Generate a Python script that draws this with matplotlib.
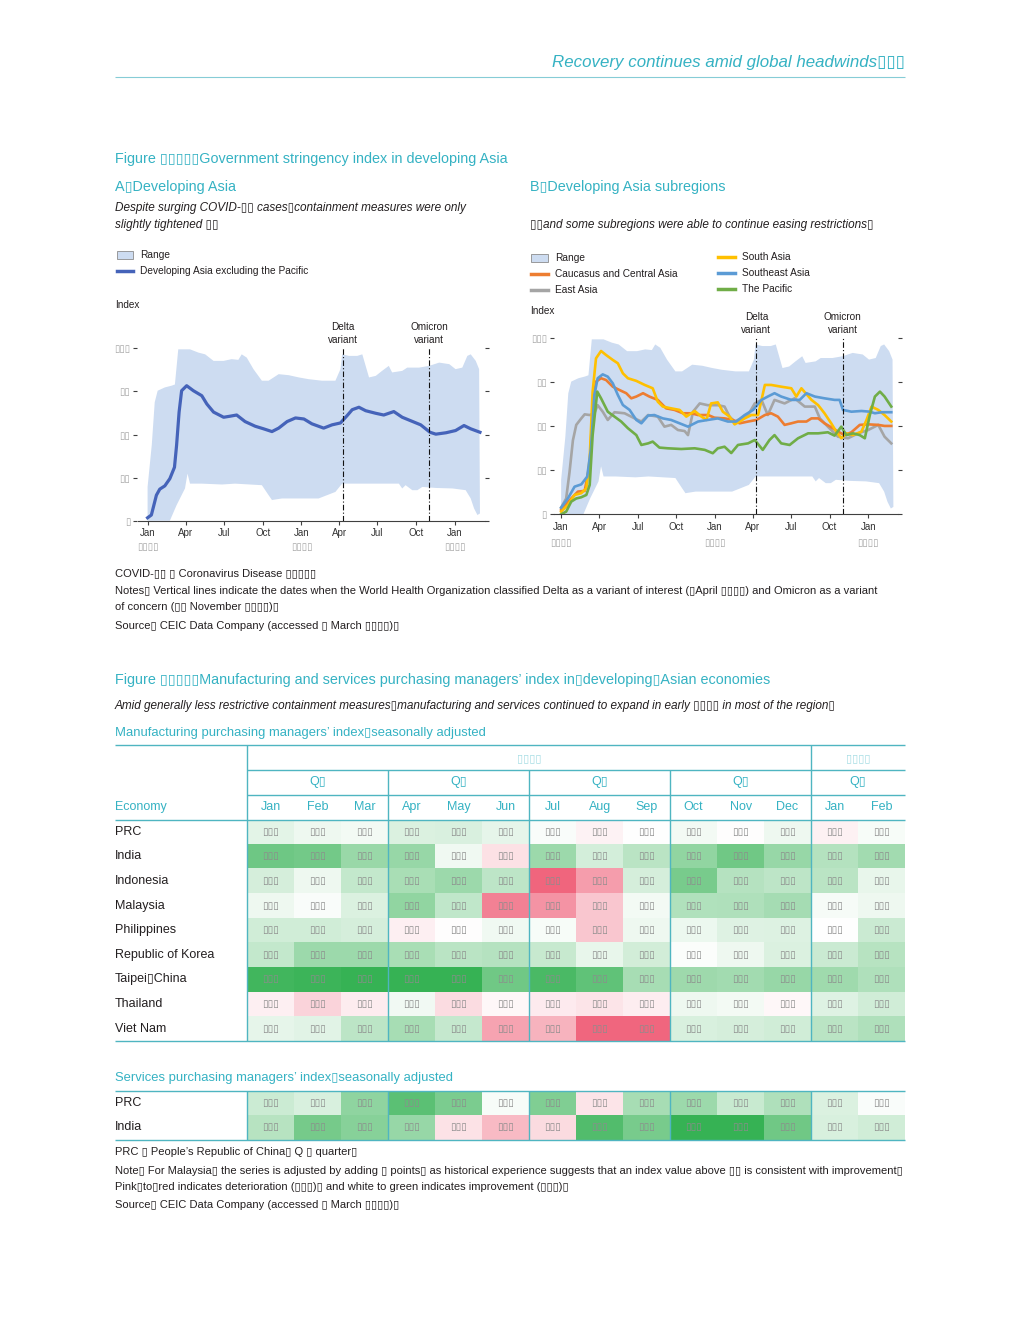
import numpy as np
import pandas as pd
import matplotlib
matplotlib.use("Agg")
import matplotlib.pyplot as plt
import matplotlib.dates as mdates
from matplotlib import font_manager
from matplotlib.colors import LinearSegmentedColormap, TwoSlopeNorm
from matplotlib.patches import Rectangle

BX = "\u25af"  # missing-glyph box, as shown in the reference

# ---------------- data: stringency index (days after 2020-01-01, index) ----------------
range_upper_days = [0, 10, 17, 24, 41, 57, 65, 73, 101, 121, 137, 157, 181, 200, 216, 224, 236, 252, 272, 288,
                    312, 336, 360, 383, 415, 447, 459, 463, 479, 499, 511, 519, 527, 543, 558, 574, 582, 606, 618,
                    646, 670, 694, 718, 733, 749, 761, 769, 781, 789]
range_upper_vals = [19.6, 44.0, 68.7, 75.4, 77.3, 78.3, 79.0, 99.4, 99.4, 97.5, 96.5, 92.7, 92.7, 93.7, 93.3, 96.5,
                    94.6, 87.9, 81.2, 81.2, 85.0, 84.4, 83.1, 82.1, 81.2, 81.2, 87.9, 96.5, 95.6, 95.6, 96.5, 89.8,
                    83.1, 84.0, 86.9, 89.8, 86.0, 86.9, 88.8, 88.8, 89.8, 91.7, 90.8, 87.9, 88.8, 95.6, 96.5, 92.7,
                    87.9]
range_lower_days = [0, 53, 69, 89, 95, 101, 129, 177, 208, 272, 288, 296, 320, 368, 407, 447, 463, 525, 598, 606,
                    614, 630, 642, 654, 686, 726, 757, 769, 777, 785, 791]
range_lower_vals = [0.0, 0.0, 9.0, 18.7, 27.3, 21.5, 21.5, 21.0, 21.5, 20.6, 14.8, 12.0, 12.9, 12.9, 12.9, 16.7,
                    21.5, 21.5, 21.5, 18.7, 20.6, 17.7, 17.7, 19.6, 19.0, 18.7, 17.7, 12.9, 7.1, 3.3, 4.2]

devasia_days = [0, 9, 21, 29, 41, 53, 64, 69, 75, 81, 93, 109, 129, 141, 157, 181, 196, 212, 232, 256, 276, 296,
                312, 332, 352, 372, 391, 419, 439, 459, 475, 487, 503, 519, 543, 562, 586, 606, 626, 650, 672, 686,
                710, 733, 753, 769, 791]
devasia_vals = [1.7, 3.3, 14.8, 18.3, 20.2, 24.4, 31.0, 43.7, 63.0, 75.4, 78.3, 75.4, 72.5, 67.7, 63.0, 60.0, 60.6,
                61.3, 57.5, 54.8, 53.3, 51.7, 53.7, 57.5, 59.6, 59.0, 56.2, 53.7, 55.6, 56.7, 61.0, 64.4, 65.8, 63.8,
                62.3, 61.3, 63.3, 60.0, 58.0, 55.6, 51.3, 50.2, 51.0, 52.3, 55.2, 53.3, 51.3]

eastasia_days = [0, 12, 20, 28, 36, 48, 56, 68, 79, 87, 99, 111, 127, 151, 175, 191, 207, 230, 246, 262, 278, 294,
                 302, 314, 330, 349, 373, 389, 401, 413, 429, 445, 461, 477, 492, 508, 532, 556, 580, 604, 616, 635,
                 659, 683, 707, 731, 755, 770, 786]
eastasia_vals = [3.8, 9.0, 24.0, 42.0, 50.8, 54.5, 56.8, 56.4, 57.4, 62.0, 58.3, 53.6, 58.0, 57.4, 54.5, 52.7, 56.4,
                 55.5, 49.8, 50.8, 47.9, 47.3, 45.0, 58.3, 63.0, 62.0, 62.0, 61.2, 55.5, 52.7, 54.5, 56.4, 63.0, 65.0,
                 56.4, 65.0, 63.0, 65.9, 61.2, 61.2, 54.5, 49.8, 44.1, 43.2, 46.0, 47.9, 50.8, 44.1, 40.3]

caucasus_days = [0, 24, 40, 56, 68, 75, 83, 95, 107, 123, 139, 155, 167, 179, 195, 210, 230, 250, 270, 290, 310,
                 326, 350, 365, 389, 409, 425, 445, 465, 485, 500, 516, 532, 548, 564, 584, 596, 612, 627, 647, 659,
                 675, 691, 711, 731, 755, 770, 786]
caucasus_vals = [2.5, 9.0, 12.9, 13.3, 28.0, 60.2, 75.4, 77.3, 76.3, 72.5, 70.6, 68.8, 65.9, 66.9, 68.8, 66.9, 65.0,
                 60.2, 59.3, 57.4, 57.4, 56.4, 56.4, 54.9, 54.5, 53.6, 51.7, 52.7, 53.6, 56.4, 57.4, 55.5, 50.8, 51.7,
                 52.7, 52.7, 54.5, 54.5, 51.7, 48.9, 47.0, 45.0, 46.6, 50.8, 51.1, 50.8, 50.2, 50.2]

southasia_days = [0, 16, 32, 48, 60, 68, 75, 83, 95, 107, 123, 135, 147, 159, 179, 199, 218, 230, 242, 262, 282,
                  298, 318, 334, 346, 357, 373, 385, 401, 413, 425, 437, 453, 469, 485, 500, 524, 548, 560, 572, 596,
                  612, 627, 643, 655, 667, 679, 695, 715, 727, 739, 755, 770, 786]
southasia_vals = [1.5, 5.3, 11.0, 12.0, 14.8, 31.8, 69.7, 88.6, 92.8, 90.5, 87.7, 85.8, 80.1, 77.3, 75.8, 73.5,
                  71.6, 64.0, 61.2, 60.2, 59.3, 55.5, 58.7, 55.5, 53.6, 63.0, 63.6, 58.3, 55.5, 51.1, 52.7, 54.5,
                  56.4, 56.4, 73.5, 73.5, 72.5, 71.6, 66.9, 71.6, 65.0, 62.0, 57.4, 51.7, 47.0, 43.2, 46.0, 45.0,
                  47.0, 53.6, 61.2, 59.3, 56.4, 52.7]

seasia_days = [0, 16, 32, 48, 62, 71, 79, 87, 99, 111, 123, 135, 147, 163, 179, 191, 207, 222, 242, 262, 282, 302,
               326, 349, 373, 397, 417, 437, 457, 477, 492, 508, 524, 548, 568, 584, 604, 627, 651, 663, 671, 691,
               715, 735, 747, 763, 786]
seasia_vals = [3.8, 9.0, 15.7, 17.0, 21.4, 37.5, 67.8, 77.3, 79.5, 78.2, 74.4, 67.8, 62.1, 59.3, 53.6, 51.7, 56.1,
               56.4, 54.5, 53.6, 51.7, 49.8, 52.7, 53.6, 54.5, 52.7, 52.7, 56.4, 59.3, 65.0, 66.9, 68.8, 66.9, 65.0,
               65.0, 68.8, 66.9, 65.9, 65.0, 65.0, 59.3, 58.3, 58.7, 58.3, 57.4, 58.0, 58.0]

pacific_days = [0, 12, 24, 36, 48, 60, 68, 75, 86, 95, 111, 127, 143, 159, 179, 191, 207, 218, 234, 254, 286, 318,
                342, 361, 373, 389, 405, 421, 445, 461, 480, 496, 508, 524, 544, 564, 588, 612, 635, 651, 667, 679,
                695, 711, 723, 735, 747, 759, 770, 786]
pacific_vals = [0.0, 1.5, 7.2, 9.0, 9.7, 11.0, 16.7, 45.0, 69.7, 65.9, 58.3, 55.5, 52.7, 48.9, 45.0, 39.4, 40.3,
                41.3, 37.9, 37.5, 37.1, 37.5, 36.6, 34.7, 37.5, 38.4, 34.8, 39.4, 40.3, 42.2, 36.6, 42.2, 45.0, 40.3,
                39.4, 43.2, 46.0, 46.0, 46.6, 44.7, 49.8, 45.0, 46.0, 45.0, 43.2, 56.4, 66.9, 69.7, 66.9, 61.2]

delta_date = "2021-04-10"
omicron_date = "2021-11-01"
y_ticks = [0, 25, 50, 75, 100]
y_ticklabels = [BX, BX * 2, BX * 2, BX * 2, BX * 3]

# ---------------- data: PMI tables (Jan 2021 - Feb 2022) ----------------
pmi_months = ["Jan", "Feb", "Mar", "Apr", "May", "Jun", "Jul", "Aug", "Sep", "Oct", "Nov", "Dec", "Jan", "Feb"]
pmi_quarters = ["Q" + BX] * 5
pmi_years = [BX * 4, BX * 4]
mfg_economies = ["PRC", "India", "Indonesia", "Malaysia", "Philippines", "Republic of Korea",
                 "Taipei" + BX + "China", "Thailand", "Viet Nam"]
mfg_prc = [51.5, 50.9, 50.6, 51.9, 52.0, 51.3, 50.3, 49.2, 50.0, 50.6, 49.9, 50.9, 49.1, 50.4]
mfg_india = [57.7, 57.5, 55.4, 55.5, 50.8, 48.1, 55.3, 52.3, 53.7, 55.9, 57.6, 55.5, 54.0, 54.9]
mfg_indonesia = [52.2, 50.9, 53.2, 54.6, 55.3, 53.5, 40.1, 43.7, 52.2, 57.2, 53.9, 53.5, 53.7, 51.2]
mfg_malaysia = [50.9, 50.3, 51.9, 55.9, 53.3, 41.9, 43.1, 46.4, 50.6, 54.2, 54.3, 54.8, 50.5, 50.9]
mfg_philippines = [52.5, 52.5, 52.2, 49.0, 49.9, 50.8, 50.4, 46.4, 50.9, 51.0, 51.7, 51.8, 50.0, 52.8]
mfg_korea = [53.2, 55.3, 55.3, 54.6, 53.7, 53.9, 53.0, 51.2, 52.4, 50.2, 50.9, 51.9, 52.8, 53.8]
mfg_taipei = [60.2, 60.4, 60.8, 62.4, 62.0, 57.6, 59.7, 58.5, 54.7, 55.2, 54.9, 55.5, 55.1, 54.3]
mfg_thailand = [49.0, 47.2, 48.8, 50.7, 47.8, 49.5, 48.7, 48.3, 48.9, 50.9, 50.6, 49.5, 51.7, 52.5]
mfg_vietnam = [51.3, 51.6, 53.6, 54.7, 53.1, 44.1, 45.1, 40.2, 40.2, 52.1, 52.2, 52.5, 53.7, 54.3]
svc_economies = ["PRC", "India"]
svc_prc = [52.0, 51.5, 54.3, 56.3, 55.1, 50.3, 54.9, 46.7, 53.4, 53.8, 52.1, 53.1, 51.4, 50.2]
svc_india = [52.8, 55.3, 54.6, 54.0, 46.4, 41.2, 45.4, 56.7, 55.2, 58.4, 58.1, 55.5, 51.5, 51.8]

# ---------------- style ----------------
names = {f.name for f in font_manager.fontManager.ttflist}
MAIN = "Liberation Sans" if "Liberation Sans" in names else "DejaVu Sans"
plt.rcParams["font.family"] = [MAIN, "DejaVu Sans"]

TEAL = "#35b2c3"
TEAL_LIGHT = "#a6dde4"
LINE = "#4fb5c1"
DARK = "#231f20"
BAND = "#cddcf1"
GRAYTXT = "#a6a6a6"
AX = "#404040"

FS_HEAD = 10.4   # teal figure / panel titles
FS_SUB = 8.5     # italic subtitles
FS_TBL = 9.35    # teal table titles
FS_NOTE = 8.0    # notes / sources
FS_LEG = 7.3     # legends
FS_CELL = 9.0    # table labels

W, H = 1020, 1320
fig = plt.figure(figsize=(W / 100, H / 100), dpi=100)
fig.patch.set_facecolor("white")


def add_ax(l, t, r, b):
    return fig.add_axes([l / W, 1 - b / H, (r - l) / W, (b - t) / H])


ov = add_ax(0, 0, W, H)
ov.set_xlim(0, W)
ov.set_ylim(H, 0)
ov.axis("off")
ov.set_zorder(5)
ov.patch.set_visible(False)


def txt(x, y, s, size=FS_NOTE, color=DARK, **kw):
    kw.setdefault("ha", "left")
    kw.setdefault("va", "center")
    ov.text(x, y, s, fontsize=size, color=color, **kw)


def hline(x0, x1, y, color=LINE, lw=1.0):
    ov.plot([x0, x1], [y, y], color=color, lw=lw, solid_capstyle="butt")


def vline(x, y0, y1, color=LINE, lw=1.0):
    ov.plot([x, x], [y0, y1], color=color, lw=lw, solid_capstyle="butt")


D0 = pd.Timestamp("2020-01-01")


def to_num(days):
    return mdates.date2num((D0 + pd.to_timedelta(np.asarray(days, float), unit="D")).values)


def chart(l, t, r, b, xlim, year_off):
    ax = add_ax(l, t, r, b)
    ax.xaxis_date()
    ux, lx = to_num(range_upper_days), to_num(range_lower_days)
    ax.fill(np.r_[ux, lx[::-1]], np.r_[range_upper_vals, range_lower_vals[::-1]], color=BAND, lw=0, zorder=1)
    ax.set_xlim(mdates.datestr2num(xlim[0]), mdates.datestr2num(xlim[1]))
    ax.set_ylim(0, 100)
    ax.xaxis.set_major_locator(mdates.MonthLocator(bymonth=[1, 4, 7, 10]))
    ax.xaxis.set_major_formatter(mdates.DateFormatter("%b"))
    ax.set_yticks(y_ticks)
    ax.set_yticklabels(y_ticklabels)
    ax.tick_params(axis="y", left=True, right=True, length=3.2, width=0.8, color=AX,
                   labelcolor=GRAYTXT, labelsize=7, pad=2)
    ax.tick_params(axis="x", length=3, width=0.8, color=AX, labelcolor="#333333", labelsize=7, pad=2.5)
    for s in ["top", "left", "right"]:
        ax.spines[s].set_visible(False)
    ax.spines["bottom"].set_color(AX)
    ax.spines["bottom"].set_linewidth(0.8)
    for y in ["2020-01-01", "2021-01-01", "2022-01-01"]:
        ax.annotate(BX * 4, xy=(mdates.datestr2num(y), 0), xycoords=("data", "axes fraction"),
                    xytext=(0, -year_off), textcoords="offset pixels", ha="center", va="center",
                    fontsize=7, color=GRAYTXT, annotation_clip=False)
    for d, lab in [(delta_date, "Delta\nvariant"), (omicron_date, "Omicron\nvariant")]:
        xd = mdates.datestr2num(d)
        ax.axvline(xd, color="#111111", lw=0.8, ls=(0, (5, 2, 1, 2)), zorder=4)
        ax.annotate(lab, xy=(xd, 1), xycoords=("data", "axes fraction"), xytext=(0, 15),
                    textcoords="offset pixels", ha="center", va="center", fontsize=7.2, color=DARK,
                    linespacing=1.45, annotation_clip=False)
    return ax


# ---------------- header ----------------
txt(905, 63, "Recovery continues amid global headwinds" + BX * 3, size=12.2, color=TEAL, ha="right",
    style="italic")
hline(115, 905, 77, color="#86ccd6", lw=0.8)

# ---------------- figure 1 ----------------
txt(115, 159, "Figure " + BX * 5 + "Government stringency index in developing Asia", FS_HEAD, TEAL)
txt(115, 187, "A" + BX + "Developing Asia", FS_HEAD, TEAL)
txt(530, 187, "B" + BX + "Developing Asia subregions", FS_HEAD, TEAL)
txt(115, 208, "Despite surging COVID-" + BX * 2 + " cases" + BX + "containment measures were only", FS_SUB,
    style="italic")
txt(115, 225, "slightly tightened " + BX * 2, FS_SUB, style="italic")
txt(530, 225, BX * 2 + "and some subregions were able to continue easing restrictions" + BX, FS_SUB,
    style="italic")

# legends
ov.add_patch(Rectangle((117, 251), 16, 8, facecolor=BAND, edgecolor="#8c8c8c", lw=0.6))
txt(140, 255, "Range", FS_LEG)
ov.plot([117, 133], [271, 271], color="#4563b9", lw=2.5)
txt(140, 271, "Developing Asia excluding the Pacific", FS_LEG)

ov.add_patch(Rectangle((531, 254), 17, 8, facecolor=BAND, edgecolor="#8c8c8c", lw=0.6))
txt(555, 258, "Range", FS_LEG)
leg_b = [(531, 274, "#ed7d31", "Caucasus and Central Asia"), (531, 290, "#a5a5a5", "East Asia"),
         (718, 257, "#ffc000", "South Asia"), (718, 273, "#5b9bd5", "Southeast Asia"),
         (718, 289, "#70ad47", "The Pacific")]
for x0, y0, c, lab in leg_b:
    ov.plot([x0, x0 + 17], [y0, y0], color=c, lw=2.5)
    txt(x0 + 24, y0, lab, FS_LEG)

txt(115, 305, "Index", 7.2)
txt(530, 311, "Index", 7.2)

axA = chart(137.5, 348.3, 485, 520.7, ("2019-12-08", "2022-03-14"), 26)
axA.plot(to_num(devasia_days), devasia_vals, color="#4563b9", lw=2.3, zorder=3)

axB = chart(554, 338.3, 898, 514.3, ("2019-12-15", "2022-03-13"), 29)
for d, v, c in [(eastasia_days, eastasia_vals, "#a5a5a5"), (caucasus_days, caucasus_vals, "#ed7d31"),
                (southasia_days, southasia_vals, "#ffc000"), (seasia_days, seasia_vals, "#5b9bd5"),
                (pacific_days, pacific_vals, "#70ad47")]:
    axB.plot(to_num(d), v, color=c, lw=1.9, zorder=3)

txt(115, 573, "COVID-" + BX * 2 + " " + BX + " Coronavirus Disease " + BX * 5)
txt(115, 591, "Notes" + BX + " Vertical lines indicate the dates when the World Health Organization classified "
    "Delta as a variant of interest (" + BX + "April " + BX * 4 + ") and Omicron as a variant")
txt(115, 607, "of concern (" + BX * 2 + " November " + BX * 4 + ")" + BX)
txt(115, 626, "Source" + BX + " CEIC Data Company (accessed " + BX + " March " + BX * 4 + ")" + BX)

# ---------------- figure 2 ----------------
txt(115, 680, "Figure " + BX * 5 + "Manufacturing and services purchasing managers\u2019 index in" + BX +
    "developing" + BX + "Asian economies", FS_HEAD, TEAL)
txt(115, 706, "Amid generally less restrictive containment measures" + BX + "manufacturing and services "
    "continued to expand in early " + BX * 4 + " in most of the region" + BX, FS_SUB, style="italic")
txt(115, 733, "Manufacturing purchasing managers\u2019 index" + BX + "seasonally adjusted", FS_TBL, TEAL)

cmap = LinearSegmentedColormap.from_list("pmi", [(0.0, "#f0647c"), (0.5, "#ffffff"), (1.0, "#36b254")])
norm_m = TwoSlopeNorm(vmin=40.0, vcenter=50.0, vmax=60.8)
norm_s = TwoSlopeNorm(vmin=30.0, vcenter=50.0, vmax=57.8)

COL_L, COL_R = 247.3, 905.0
colw = (COL_R - COL_L) / 14
qx = [COL_L + colw * 3 * i for i in range(5)] + [COL_R]
qx[4] = COL_L + colw * 12


def heat(data, rows, top, bottom, norm):
    ax = add_ax(COL_L, top, COL_R, bottom)
    arr = np.array(data)
    ax.imshow(arr, cmap=cmap, norm=norm, aspect="auto", interpolation="nearest",
              extent=(-0.5, arr.shape[1] - 0.5, arr.shape[0] - 0.5, -0.5))
    ax.axis("off")
    for i in range(arr.shape[0]):
        for j in range(arr.shape[1]):
            ax.text(j, i, BX * 3, ha="center", va="center", fontsize=7.4, color="#8c8c8c")
    rh = (bottom - top) / arr.shape[0]
    for i, name in enumerate(rows):
        txt(115, top + rh * (i + 0.5), name, FS_CELL)
    return ax


mfg = [mfg_prc, mfg_india, mfg_indonesia, mfg_malaysia, mfg_philippines, mfg_korea, mfg_taipei, mfg_thailand,
       mfg_vietnam]
heat(mfg, mfg_economies, 819.5, 1041, norm_m)

# table header
hline(115, 905, 745)
hline(COL_L, 905, 769.5)
hline(COL_L, 905, 794.5)
hline(115, 905, 819.5)
hline(115, 905, 1041)
vline(COL_L, 745, 1041)
vline(qx[4], 745, 1041)
for x in qx[1:4]:
    vline(x, 769.5, 1041)
txt((COL_L + qx[4]) / 2, 758, pmi_years[0], 8, TEAL_LIGHT, ha="center")
txt((qx[4] + COL_R) / 2, 758, pmi_years[1], 8, TEAL_LIGHT, ha="center")
for i, q in enumerate(pmi_quarters):
    txt((qx[i] + qx[i + 1]) / 2, 782, q, FS_CELL, TEAL, ha="center")
for j, m in enumerate(pmi_months):
    txt(COL_L + colw * (j + 0.5), 807, m, FS_CELL, TEAL, ha="center")
txt(115, 807, "Economy", FS_CELL, TEAL)

# services
txt(115, 1078, "Services purchasing managers\u2019 index" + BX + "seasonally adjusted", FS_TBL, TEAL)
heat([svc_prc, svc_india], svc_economies, 1090.5, 1139.5, norm_s)
hline(115, 905, 1090.5)
hline(115, 905, 1139.5)
for x in qx[:5]:
    vline(x, 1090.5, 1139.5)

txt(115, 1152, "PRC " + BX + " People\u2019s Republic of China" + BX + " Q " + BX + " quarter" + BX)
txt(115, 1171, "Note" + BX + " For Malaysia" + BX + " the series is adjusted by adding " + BX + " points" + BX +
    " as historical experience suggests that an index value above " + BX * 2 + " is consistent with improvement" + BX)
txt(115, 1187, "Pink" + BX + "to" + BX + "red indicates deterioration (" + BX * 3 + ")" + BX +
    " and white to green indicates improvement (" + BX * 3 + ")" + BX)
txt(115, 1205, "Source" + BX + " CEIC Data Company (accessed " + BX + " March " + BX * 4 + ")" + BX)

fig.savefig("out.png", dpi=100, facecolor="white")
